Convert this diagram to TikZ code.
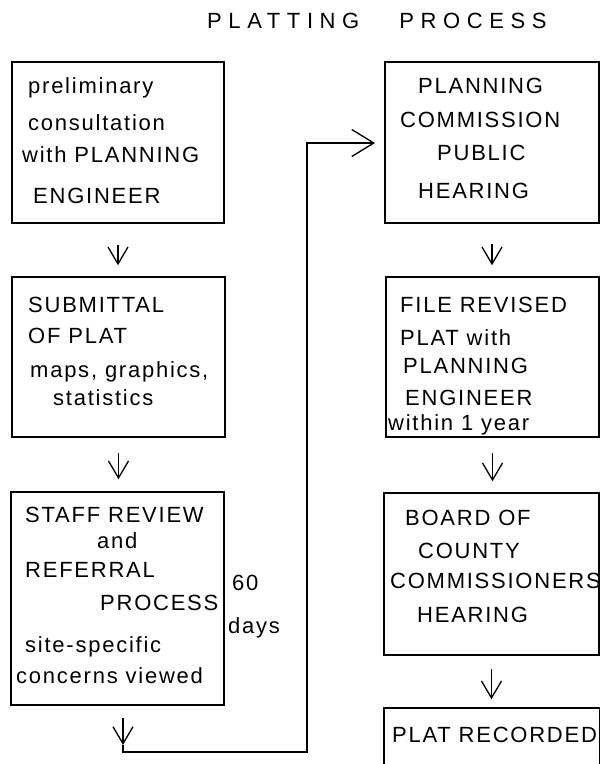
\documentclass[tikz,border=0pt]{standalone}
\usepackage{fontspec}
\setmainfont{Liberation Sans}[LetterSpace=8]
\usetikzlibrary{arrows.meta}
\tikzset{
  box/.style={draw, line width=1.5pt, inner sep=0pt},
  txt/.style={anchor=base west, inner sep=0pt, font=\fontsize{22}{26}\selectfont},
  ttl/.style={anchor=base west, inner sep=0pt, font=\fontsize{22}{26}\selectfont\addfontfeature{LetterSpace=30}},
  arr/.style={line width=1.3pt, -{Straight Barb[length=17pt,width=20pt,line width=1.3pt]}},
  arrbig/.style={line width=1.3pt, -{Straight Barb[length=22pt,width=27pt,line width=1.3pt]}},
  conn/.style={line width=1.3pt}
}
\begin{document}
\begin{tikzpicture}[x=1pt,y=-1pt]
\useasboundingbox (0,0) rectangle (600,764);
\clip (0,0) rectangle (600,764);
% title
\node[ttl] (title) at (207,28) {PLATTING\hspace{40pt}PROCESS};
% boxes
\node[box, minimum width=212pt, minimum height=161pt] (b1) at (118,142.5) {};
\node[box, minimum width=213pt, minimum height=160pt] (b2) at (118.5,357) {};
\node[box, minimum width=213pt, minimum height=213pt] (b3) at (117.5,598.5) {};
\node[box, minimum width=214pt, minimum height=161pt] (b4) at (492,142.5) {};
\node[box, minimum width=213pt, minimum height=160pt] (b5) at (492.5,357) {};
\node[box, minimum width=215pt, minimum height=162pt] (b6) at (491.5,574) {};
\node[box, minimum width=216pt, minimum height=82pt] (b7) at (492,749) {};
% box 1 text
\node[txt] (t1a) at (28,93) {preliminary};
\node[txt] (t1b) at (28,130) {consultation};
\node[txt] (t1c) at (22,162) {with PLANNING};
\node[txt] (t1d) at (33,203) {ENGINEER};
% box 2 text
\node[txt] (t2a) at (28,312) {SUBMITTAL};
\node[txt] (t2b) at (28,343) {OF PLAT};
\node[txt] (t2c) at (30,377) {maps, graphics,};
\node[txt] (t2d) at (53,405) {statistics};
% box 3 text
\node[txt] (t3a) at (25,522) {STAFF REVIEW};
\node[txt] (t3b) at (97,548) {and};
\node[txt] (t3c) at (25,577) {REFERRAL};
\node[txt] (t3d) at (100,610) {PROCESS};
\node[txt] (t3e) at (25,652) {site-specific};
\node[txt] (t3f) at (16,683) {concerns viewed};
\node[txt] (d60) at (232,590) {60};
\node[txt] (days) at (228,633) {days};
% box 4 text
\node[txt] (t4a) at (418,93) {PLANNING};
\node[txt] (t4b) at (400,127) {COMMISSION};
\node[txt] (t4c) at (437,160) {PUBLIC};
\node[txt] (t4d) at (418,198) {HEARING};
% box 5 text
\node[txt] (t5a) at (400,312) {FILE REVISED};
\node[txt] (t5b) at (400,345) {PLAT with};
\node[txt] (t5c) at (403,373) {PLANNING};
\node[txt] (t5d) at (405,405) {ENGINEER};
\node[txt] (t5e) at (388,430) {within 1 year};
% box 6 text
\node[txt] (t6a) at (405,525) {BOARD OF};
\node[txt] (t6b) at (418,558) {COUNTY};
\node[txt] (t6c) at (390,588) {COMMISSIONERS};
\node[txt] (t6d) at (417,622) {HEARING};
% box 7 text
\node[txt] (t7a) at (392,742) {PLAT RECORDED};
% arrows
\draw[arr, shorten <=21pt, shorten >=11pt] (b1.south) -- (b1.south |- b2.north);
\draw[arr, shorten <=15pt, shorten >=12pt] (b2.south) -- (b2.south |- b3.north);
\draw[arr, shorten <=20pt, shorten >=11pt] (b4.south) -- (b4.south |- b5.north);
\draw[arr, shorten <=15pt, shorten >=11pt] (b5.south) -- (b5.south |- b6.north);
\draw[arr, shorten <=13pt, shorten >=8pt] (b6.south) -- (b6.south |- b7.north);
% feedback connector
\coordinate (k1) at (123,745);
\coordinate (k2) at (123,752);
\coordinate (k3) at (307,143);
\coordinate (k4) at (375,143);
\draw[arr, shorten <=12pt] ([xshift=5.5pt]b3.south) -- (k1);
\draw[conn] (k1) -- (k2) -| (k3) -- ([xshift=-40pt]k4);
\draw[arrbig] ([xshift=-40pt]k4) -- (k4);
\end{tikzpicture}
\end{document}
